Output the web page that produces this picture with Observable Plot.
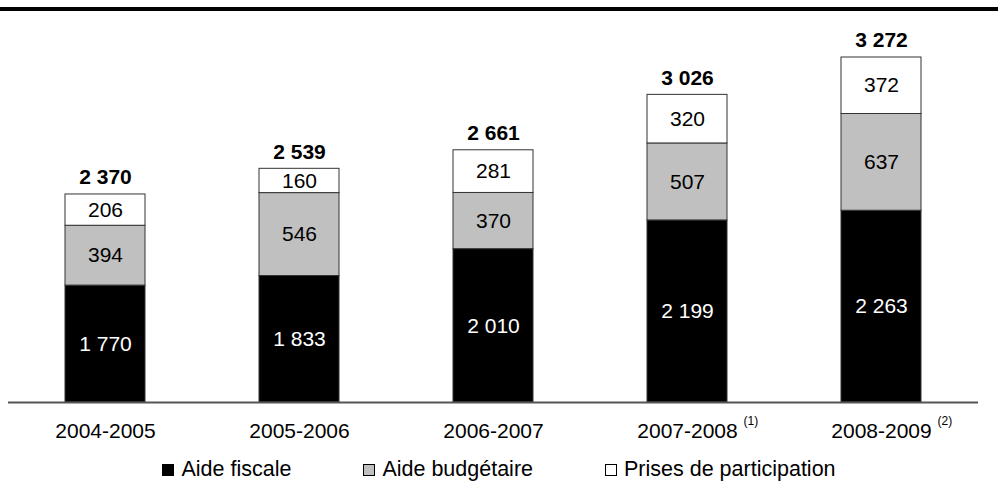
<!DOCTYPE html>
<html><head><meta charset="utf-8">
<script src="https://cdn.jsdelivr.net/npm/d3@7"></script>
<script src="https://cdn.jsdelivr.net/npm/@observablehq/plot@0.6"></script>
<style>
body{margin:0;background:#fff;font-family:"Liberation Sans",Arial,sans-serif;}
#wrap{position:relative;width:998px;height:483px;overflow:hidden;background:#fff}
#topline{position:absolute;left:0;top:7px;width:998px;height:4px;background:#000}
#chart{position:absolute;left:0;top:11px}
#legend{position:absolute;left:0;top:459px;width:998px;display:flex;justify-content:center;gap:72px;font-size:21.5px;line-height:21px;color:#000}
.item{display:flex;align-items:center}
.sw{width:10px;height:10px;border:1px solid #000;margin-right:7px;display:inline-block}
</style></head>
<body>
<div id="wrap">
  <div id="topline"></div>
  <div id="chart"></div>
  <div id="legend"></div>
</div>
<script>
const periods = ["2004-2005", "2005-2006", "2006-2007", "2007-2008", "2008-2009"];
const series = ["Aide fiscale", "Aide budgétaire", "Prises de participation"];
const aideFiscale = [1770, 1833, 2010, 2199, 2263];
const aideBudgetaire = [394, 546, 370, 507, 637];
const prisesParticipation = [206, 160, 281, 320, 372];
const totals = [2370, 2539, 2661, 3026, 3272];
const notes = [{period: "2007-2008", note: "(1)"}, {period: "2008-2009", note: "(2)"}];
const colors = ["#000000", "#c0c0c0", "#ffffff"];

const yMin = 1000, yMax = 3575;
const values = [aideFiscale, aideBudgetaire, prisesParticipation];
const rows = periods.flatMap((p, i) => {
  let base = 0;
  return series.map((s, j) => {
    const v = values[j][i];
    const y1 = base, y2 = base + v;
    base = y2;
    return {period: p, series: s, value: v, y1, y2, mid: (Math.max(y1, yMin) + y2) / 2};
  });
});
const totalRows = periods.map((p, i) => ({period: p, total: totals[i]}));
const fmt = d3.formatLocale({thousands: " ", grouping: [3], decimal: ",", currency: ["", ""]}).format(",d");

const chart = Plot.plot({
  width: 998,
  height: 445,
  marginTop: 0,
  marginBottom: 54,
  marginLeft: 8,
  marginRight: 20,
  style: {fontFamily: "'Liberation Sans', Arial, sans-serif", fontSize: "21px", background: "white", color: "black"},
  x: {domain: periods, paddingInner: 0.59, paddingOuter: 0.295, axis: null, label: null},
  y: {domain: [yMin, yMax], clamp: true, axis: null},
  color: {domain: series, range: colors},
  marks: [
    Plot.barY(rows, {x: "period", y1: "y1", y2: "y2", fill: "series", stroke: "#333", strokeWidth: 1}),
    Plot.ruleY([yMin], {stroke: "#555", strokeWidth: 2}),
    Plot.text(rows, {filter: d => d.series === "Aide fiscale", x: "period", y: "mid", text: d => fmt(d.value), fill: "white", fontSize: 21}),
    Plot.text(rows, {filter: d => d.series !== "Aide fiscale", x: "period", y: "mid", text: d => fmt(d.value), fill: "black", fontSize: 21}),
    Plot.text(totalRows, {x: "period", y: "total", text: d => fmt(d.total), dy: -17, fontWeight: "bold", fontSize: 21, fill: "black"}),
    Plot.axisX({tickSize: 0, tickPadding: 21, fontSize: 21, anchor: "bottom", fill: "black", label: null}),
    Plot.text(notes, {x: "period", text: "note", frameAnchor: "bottom", dx: 56, dy: 22, textAnchor: "start", fontSize: 12, fill: "black"})
  ]
});
document.getElementById("chart").appendChild(chart);

const legend = document.getElementById("legend");
series.forEach((s, i) => {
  const item = document.createElement("div");
  item.className = "item";
  const sw = document.createElement("span");
  sw.className = "sw";
  sw.style.background = colors[i];
  const label = document.createElement("span");
  label.textContent = s;
  item.appendChild(sw);
  item.appendChild(label);
  legend.appendChild(item);
});
</script>
</body></html>
